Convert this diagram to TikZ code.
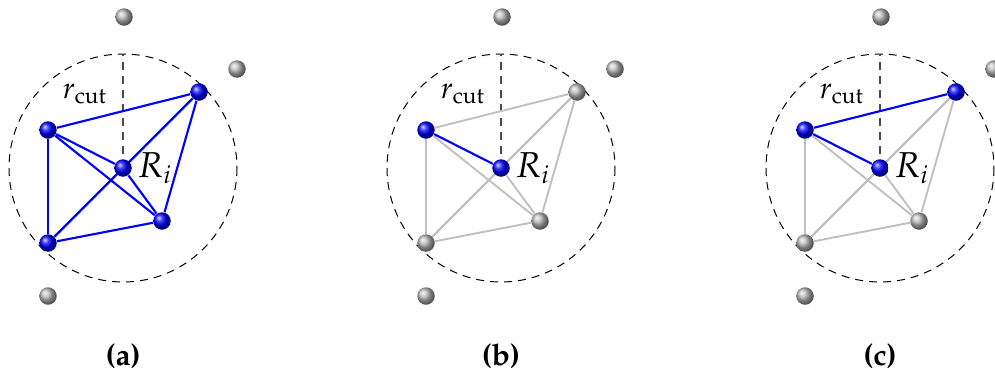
\documentclass[tikz,border=0pt,12pt]{standalone}
\usepackage[T1]{fontenc}
\usepackage{mathpazo}
\usetikzlibrary{backgrounds}

\begin{document}
\begin{tikzpicture}[x=0.4pt,y=-0.4pt,
  atom/.style={circle,inner sep=0pt,minimum size=7pt,shading=ball,ball color=blue},
  far/.style={circle,inner sep=0pt,minimum size=7pt,shading=ball,ball color=gray!55},
  bond/.style={blue,line width=0.85pt},
  nobond/.style={black!25,line width=0.75pt},
  cut/.style={line width=0.4pt,dash pattern=on 3.2pt off 2.4pt},
  lab/.style={font=\bfseries}]
  \useasboundingbox (0,0) rectangle (995,374);

  % (a) all neighbours
  \begin{scope}[shift={(123,168)}]
    \node[atom](a-i) at (0,0) {};
    \node[atom](a-1) at (-75,-38) {};
    \node[atom](a-2) at (76,-76) {};
    \node[atom](a-3) at (39,53) {};
    \node[atom](a-4) at (-75,75) {};
    \node[far](a-5) at (1,-151) {};
    \node[far](a-6) at (114,-99) {};
    \node[far](a-7) at (-75,128) {};
    \node(a-rc) at (-38,-74) {$r_{\mathrm{cut}}$};
    \node[anchor=west,inner sep=2pt,font=\large](a-ri) at (a-i.east) {$R_i$};
    \node[lab](a-lab) at (0,188) {(a)};
    \begin{scope}[on background layer]
      \draw[cut] (a-i.center) circle[radius=114];
      \draw[cut,black!70,line width=0.6pt] (a-i.center) -- (0,-114);
      \foreach \u/\v in {i/1,i/2,i/3,i/4,1/2,1/3,1/4,2/3,2/4,3/4}
        \draw[bond] (a-\u) -- (a-\v);
    \end{scope}
  \end{scope}

  % (b) one pair
  \begin{scope}[shift={(501,168)}]
    \node[atom](b-i) at (0,0) {};
    \node[atom](b-1) at (-75,-38) {};
    \node[far](b-2) at (76,-76) {};
    \node[far](b-3) at (39,53) {};
    \node[far](b-4) at (-75,75) {};
    \node[far](b-5) at (1,-151) {};
    \node[far](b-6) at (114,-99) {};
    \node[far](b-7) at (-75,128) {};
    \node(b-rc) at (-38,-74) {$r_{\mathrm{cut}}$};
    \node[anchor=west,inner sep=2pt,font=\large](b-ri) at (b-i.east) {$R_i$};
    \node[lab](b-lab) at (0,188) {(b)};
    \begin{scope}[on background layer]
      \draw[cut] (b-i.center) circle[radius=114];
      \draw[cut,black!70,line width=0.6pt] (b-i.center) -- (0,-114);
      \foreach \u/\v in {i/2,i/3,i/4,1/2,1/3,1/4,2/3,2/4,3/4}
        \draw[nobond] (b-\u) -- (b-\v);
      \draw[bond] (b-i) -- (b-1);
    \end{scope}
  \end{scope}

  % (c) one triplet
  \begin{scope}[shift={(880,168)}]
    \node[atom](c-i) at (0,0) {};
    \node[atom](c-1) at (-75,-38) {};
    \node[atom](c-2) at (76,-76) {};
    \node[far](c-3) at (39,53) {};
    \node[far](c-4) at (-75,75) {};
    \node[far](c-5) at (1,-151) {};
    \node[far](c-6) at (114,-99) {};
    \node[far](c-7) at (-75,128) {};
    \node(c-rc) at (-38,-74) {$r_{\mathrm{cut}}$};
    \node[anchor=west,inner sep=2pt,font=\large](c-ri) at (c-i.east) {$R_i$};
    \node[lab](c-lab) at (0,188) {(c)};
    \begin{scope}[on background layer]
      \draw[cut] (c-i.center) circle[radius=114];
      \draw[cut,black!70,line width=0.6pt] (c-i.center) -- (0,-114);
      \foreach \u/\v in {i/2,i/3,i/4,1/3,1/4,2/3,2/4,3/4}
        \draw[nobond] (c-\u) -- (c-\v);
      \draw[bond] (c-i) -- (c-1) -- (c-2);
    \end{scope}
  \end{scope}
\end{tikzpicture}
\end{document}
